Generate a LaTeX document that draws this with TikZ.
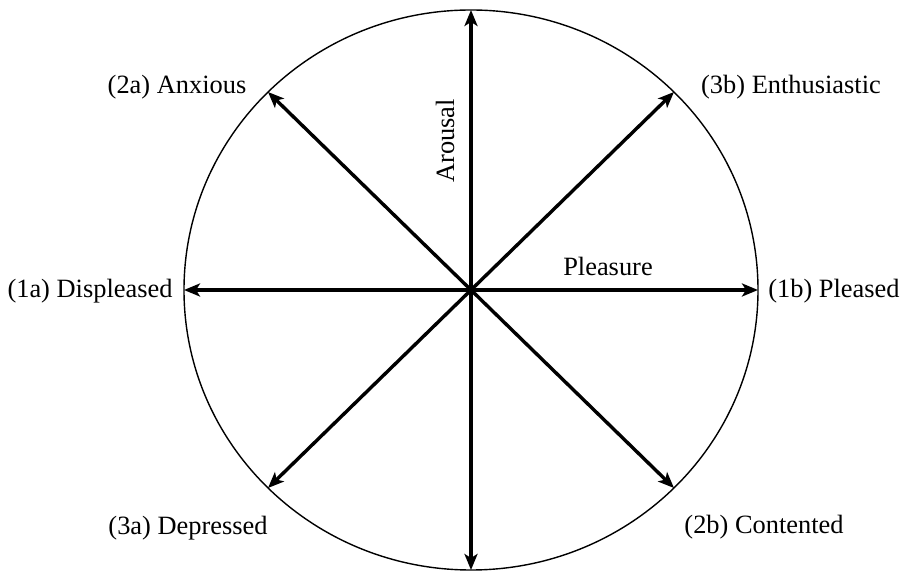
\documentclass[tikz,border=0pt]{standalone}
\usepackage{fontspec}
\setmainfont{Liberation Serif}
\usetikzlibrary{arrows.meta}

\begin{document}
\begin{tikzpicture}[x=0.5pt, y=0.5pt, >={Stealth[length=8pt, width=6.5pt, inset=2pt]},
    font=\fontsize{13.2}{16}\selectfont]
    \useasboundingbox (-471,-281) rectangle (432,290);

    \draw[line width=0.7pt] (0,0) ellipse [x radius=287, y radius=280];

    % centre and arrow tips on the circle
    \coordinate (o) at (0,0);
    \coordinate (up) at (0,280);
    \coordinate (down) at (0,-280);
    \coordinate (left) at (-287,0);
    \coordinate (right) at (287,0);
    \coordinate (ne) at (203,198);
    \coordinate (nw) at (-203,198);
    \coordinate (sw) at (-203,-198);
    \coordinate (se) at (203,-198);

    \foreach \tip in {up,down,left,right,ne,nw,sw,se}
        \draw[->, line width=1.7pt] (o) -- (\tip);

    \node[rotate=90] (arousal) at (-26,149) {Arousal};
    \node (pleasure) at (137,24) {Pleasure};

    \node (anxious) at (-294,203) {(2a) Anxious};
    \node (enthus) at (320,203) {(3b) Enthusiastic};
    \node (displeased) at (-381,-1) {(1a) Displeased};
    \node (pleased) at (363,-1) {(1b) Pleased};
    \node (depressed) at (-283,-238) {(3a) Depressed};
    \node (contented) at (293,-237) {(2b) Contented};
\end{tikzpicture}
\end{document}
